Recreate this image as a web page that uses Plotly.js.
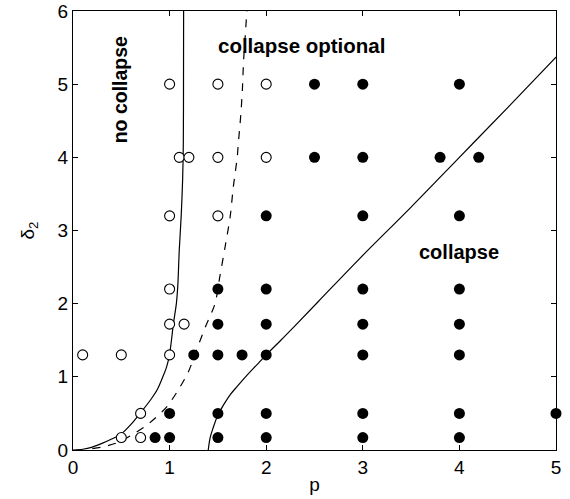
<!DOCTYPE html>
<html>
<head>
<meta charset="utf-8">
<script src="https://cdn.plot.ly/plotly-3.0.1.min.js"></script>
<style>html,body{margin:0;padding:0;background:#fff;}#chart{width:570px;height:499px;}</style>
</head>
<body>
<div id="chart"></div>
<script>
// Open circles: "no collapse" observations
const openP = [1, 1.5, 2, 1.1, 1.2, 1.5, 2, 1, 1.5, 1, 1, 1.15, 0.1, 0.5, 1, 0.7, 0.5, 0.7];
const openD = [5, 5, 5, 4, 4, 4, 4, 3.2, 3.2, 2.2, 1.72, 1.72, 1.3, 1.3, 1.3, 0.5, 0.17, 0.17];

// Filled circles: "collapse" observations
const fillP = [2.5, 3, 4,
               2.5, 3, 3.8, 4.2,
               2, 3, 4,
               1.5, 2, 3, 4,
               1.5, 2, 3, 4,
               1.25, 1.5, 1.75, 2, 3, 4,
               1, 1.5, 2, 3, 4, 5,
               0.85, 1, 1.5, 2, 3, 4];
const fillD = [5, 5, 5,
               4, 4, 4, 4,
               3.2, 3.2, 3.2,
               2.2, 2.2, 2.2, 2.2,
               1.72, 1.72, 1.72, 1.72,
               1.3, 1.3, 1.3, 1.3, 1.3, 1.3,
               0.5, 0.5, 0.5, 0.5, 0.5, 0.5,
               0.17, 0.17, 0.17, 0.17, 0.17, 0.17];

// Left solid boundary (no collapse)
const leftP = [0, 0.1, 0.2, 0.3, 0.4, 0.5, 0.6, 0.7, 0.8, 0.87, 0.93, 0.97, 1.0, 1.04, 1.07, 1.085, 1.10, 1.12, 1.135, 1.142, 1.144, 1.145];
const leftD = [0, 0.01, 0.04, 0.09, 0.15, 0.22, 0.35, 0.51, 0.68, 0.82, 1.0, 1.14, 1.31, 1.73, 2.0, 2.25, 2.73, 3.2, 3.7, 4.2, 5.0, 6.0];

// Dashed boundary (collapse optional)
const dashP = [0.2, 0.3, 0.46, 0.6, 0.765, 0.97, 1.11, 1.195, 1.28, 1.37, 1.47, 1.52, 1.575, 1.627, 1.66, 1.70, 1.71, 1.737, 1.754, 1.765, 1.79, 1.80];
const dashD = [0.02, 0.04, 0.1, 0.2, 0.34, 0.59, 0.865, 1.07, 1.37, 1.68, 2.0, 2.37, 2.78, 3.19, 3.6, 4.0, 4.17, 4.58, 4.94, 5.3, 5.8, 6.0];

// Right solid boundary (collapse)
const rightP = [1.40, 1.42, 1.45, 1.5, 1.56, 1.63, 1.7, 1.8, 1.9, 2.0, 2.144, 2.3, 2.54, 2.97, 3.5, 4.0, 4.5, 5.0];
const rightD = [0, 0.17, 0.3, 0.48, 0.62, 0.76, 0.87, 1.02, 1.16, 1.3, 1.49, 1.7, 2.03, 2.62, 3.32, 4.0, 4.68, 5.37];

const xTicks = [0, 1, 2, 3, 4, 5];
const yTicks = [0, 1, 2, 3, 4, 5, 6];

const FONT = 'Liberation Sans, Arial, Helvetica, sans-serif';

const traces = [
  {x: leftP, y: leftD, mode: 'lines', type: 'scatter', line: {color: '#000', width: 1.2, shape: 'spline', smoothing: 0.8}, hoverinfo: 'skip'},
  {x: dashP, y: dashD, mode: 'lines', type: 'scatter', line: {color: '#000', width: 1.2, dash: '8px,8px', shape: 'spline', smoothing: 0.8}, hoverinfo: 'skip'},
  {x: rightP, y: rightD, mode: 'lines', type: 'scatter', line: {color: '#000', width: 1.2, shape: 'spline', smoothing: 1}, hoverinfo: 'skip'},
  {x: openP, y: openD, mode: 'markers', type: 'scatter', cliponaxis: false,
   marker: {symbol: 'circle', size: 10, color: '#fff', line: {color: '#000', width: 1.1}}},
  {x: fillP, y: fillD, mode: 'markers', type: 'scatter', cliponaxis: false,
   marker: {symbol: 'circle', size: 11, color: '#000', line: {color: '#000', width: 0}}}
];

const axisCommon = {
  showgrid: false, zeroline: false, showline: true, linecolor: '#000', linewidth: 1,
  mirror: 'ticks', ticks: 'inside', ticklen: 5, tickwidth: 1, tickcolor: '#000',
  tickfont: {family: FONT, size: 19, color: '#000'}
};

const layout = {
  width: 570, height: 499,
  margin: {l: 73, r: 14, t: 11, b: 49},
  paper_bgcolor: '#fff', plot_bgcolor: '#fff',
  showlegend: false,
  font: {family: FONT, color: '#000'},
  xaxis: Object.assign({}, axisCommon, {
    range: [0, 5], tickvals: xTicks, ticktext: xTicks.map(String),
    title: {text: 'p', font: {family: FONT, size: 19, color: '#000'}, standoff: 0}
  }),
  yaxis: Object.assign({}, axisCommon, {
    range: [0, 6], tickvals: yTicks, ticktext: yTicks.map(String),
    title: {text: 'δ<sub>2</sub>', font: {family: FONT, size: 19, color: '#000'}, standoff: 17}
  }),
  annotations: [
    {x: 0.49, y: 4.92, xref: 'x', yref: 'y', text: '<b>no collapse</b>', textangle: -90, showarrow: false,
     font: {family: FONT, size: 19.5, color: '#000'}},
    {x: 2.37, y: 5.53, xref: 'x', yref: 'y', text: '<b>collapse optional</b>', showarrow: false,
     font: {family: FONT, size: 20.5, color: '#000'}},
    {x: 4.0, y: 2.71, xref: 'x', yref: 'y', text: '<b>collapse</b>', showarrow: false,
     font: {family: FONT, size: 20, color: '#000'}}
  ]
};

Plotly.newPlot('chart', traces, layout, {staticPlot: true, displayModeBar: false});
</script>
</body>
</html>
